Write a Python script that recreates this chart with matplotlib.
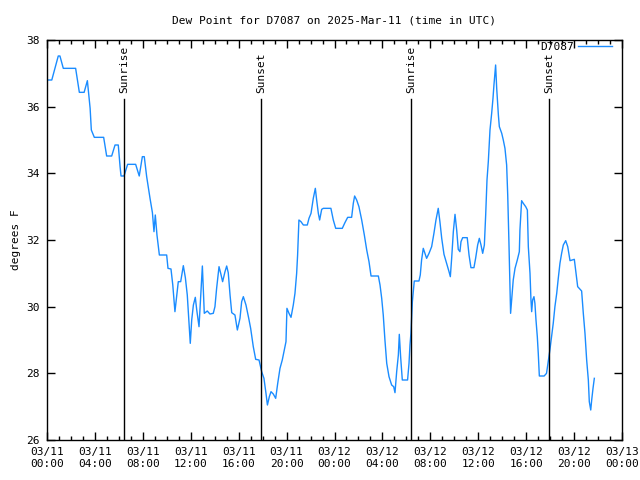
from matplotlib import pyplot as plt
import matplotlib.dates as mdates
import pandas as pd

start = pd.Timestamp("2025-03-11 00:00")

# hours after 03/11 00:00 UTC
hours = [0.1, 0.4, 0.94, 1.08, 1.36, 2.39, 2.7, 3.1, 3.37, 3.5, 3.6, 3.7, 3.95, 4.73, 4.98,
         5.4, 5.68, 5.95, 6.1, 6.18, 6.43, 6.73, 7.4, 7.7, 7.96, 8.12, 8.32, 8.6, 8.8, 8.93,
         9.04, 9.18, 9.38, 9.99, 10.1, 10.35, 10.5, 10.68, 10.82, 10.96, 11.16, 11.38, 11.55,
         11.71, 11.88, 11.96, 12.08, 12.22, 12.38, 12.5, 12.69, 12.83, 12.97, 13.13, 13.38,
         13.6, 13.88, 14.02, 14.16, 14.36, 14.5, 14.66, 14.86, 15.0, 15.13, 15.28, 15.42,
         15.69, 15.89, 16.11, 16.25, 16.39, 16.61, 16.84, 17.0, 17.22, 17.42, 17.7, 17.92,
         18.11, 18.28, 18.4, 18.56, 18.7, 18.89, 19.09, 19.26, 19.45, 19.64, 19.81, 19.95,
         20.03, 20.2, 20.37, 20.56, 20.7, 20.84, 20.92, 21.03, 21.2, 21.4, 21.73, 21.87,
         22.04, 22.23, 22.4, 22.51, 22.65, 22.76, 22.93, 23.07, 23.7, 23.9, 24.1, 24.65,
         24.87, 25.1, 25.43, 25.57, 25.68, 25.85, 26.04, 26.27, 26.49, 26.69, 26.88, 27.05,
         27.66, 27.8, 27.94, 28.07, 28.21, 28.36, 28.55, 28.77, 28.94, 29.05, 29.19, 29.33,
         29.41, 29.52, 29.66, 30.1, 30.22, 30.3, 30.38, 30.5, 30.66, 31.05, 31.16, 31.27,
         31.41, 31.55, 31.69, 31.89, 32.11, 32.3, 32.47, 32.66, 32.8, 32.95, 33.14, 33.36,
         33.56, 33.67, 33.78, 33.92, 34.06, 34.2, 34.33, 34.47, 34.56, 34.7, 35.08, 35.23,
         35.39, 35.64, 35.78, 35.95, 36.09, 36.23, 36.37, 36.51, 36.62, 36.73, 36.84, 36.98,
         37.12, 37.23, 37.31, 37.4, 37.45, 37.54, 37.68, 37.76, 37.96, 38.09, 38.23, 38.37,
         38.46, 38.56, 38.65, 38.7, 38.79, 38.92, 39.07, 39.26, 39.43, 39.48, 39.62, 39.76,
         39.96, 40.1, 40.18, 40.32, 40.4, 40.46, 40.54, 40.65, 40.73, 40.82, 40.93, 41.01,
         41.1, 41.5, 41.7, 41.84, 41.98, 42.12, 42.26, 42.4, 42.55, 42.68, 42.82, 42.96,
         43.1, 43.3, 43.47, 43.66, 43.85, 44.02, 44.16, 44.3, 44.63, 44.77, 44.91, 45.05,
         45.19, 45.27, 45.39, 45.47, 45.58, 45.69]

dewpt = [36.8, 36.8, 37.52, 37.52, 37.15, 37.15, 36.43, 36.43, 36.78, 36.3, 35.95, 35.3, 35.08,
         35.08, 34.52, 34.52, 34.85, 34.85, 34.2, 33.92, 33.92, 34.27, 34.27, 33.92, 34.5,
         34.5, 33.9, 33.25, 32.82, 32.25, 32.75, 32.15, 31.55, 31.55, 31.15, 31.13, 30.65,
         29.85, 30.3, 30.75, 30.75, 31.23, 30.87, 30.35, 29.35, 28.9, 29.6, 30.05, 30.28,
         29.9, 29.4, 30.3, 31.22, 29.8, 29.87, 29.78, 29.8, 30.0, 30.55, 31.2, 31.0, 30.75,
         31.05, 31.22, 31.02, 30.35, 29.82, 29.75, 29.3, 29.65, 30.15, 30.3, 30.05, 29.65,
         29.35, 28.8, 28.42, 28.4, 28.05, 27.85, 27.4, 27.05, 27.3, 27.45, 27.38, 27.25,
         27.7, 28.15, 28.4, 28.7, 28.95, 29.95, 29.8, 29.68, 30.05, 30.4, 31.0, 31.55, 32.6,
         32.55, 32.45, 32.45, 32.65, 32.8, 33.25, 33.55, 33.2, 32.8, 32.6, 32.92, 32.95,
         32.95, 32.6, 32.35, 32.35, 32.52, 32.68, 32.68, 33.1, 33.32, 33.2, 33.0, 32.6,
         32.15, 31.7, 31.35, 30.92, 30.92, 30.65, 30.25, 29.75, 29.0, 28.3, 27.9, 27.65,
         27.6, 27.42, 28.05, 28.55, 29.17, 28.5, 27.8, 27.8, 28.3, 28.85, 29.2, 30.15,
         30.77, 30.77, 30.95, 31.4, 31.75, 31.6, 31.45, 31.6, 31.8, 32.2, 32.6, 32.95,
         32.55, 32.05, 31.57, 31.3, 31.05, 30.9, 31.45, 32.25, 32.77, 32.3, 31.72, 31.65,
         31.95, 32.07, 32.07, 31.55, 31.17, 31.17, 31.45, 31.85, 32.05, 31.85, 31.6, 31.85,
         32.75, 33.8, 34.35, 35.3, 35.8, 36.25, 36.65, 37.05, 37.25, 36.55, 35.75, 35.4,
         35.2, 35.0, 34.75, 34.25, 33.35, 31.95, 30.5, 29.8, 30.2, 30.8, 31.15, 31.4, 31.65,
         32.3, 33.18, 33.1, 33.0, 32.9, 31.8, 31.0, 30.2, 29.85, 30.2, 30.3, 30.1, 29.6,
         29.1, 28.6, 27.92, 27.92, 28.0, 28.35, 28.7, 29.1, 29.5, 30.0, 30.4, 30.85, 31.3,
         31.6, 31.85, 31.98, 31.8, 31.38, 31.4, 31.42, 31.0, 30.6, 30.47, 29.8, 29.2, 28.4,
         27.8, 27.15, 26.9, 27.2, 27.55, 27.85]

sun_labels = ["Sunrise", "Sunset", "Sunrise", "Sunset"]
sun_hours = [6.43, 17.87, 30.38, 41.9]

plt.rcParams['font.family'] = 'DejaVu Sans Mono'
plt.rcParams['font.size'] = 8

times = start + pd.to_timedelta(hours, unit="h")
sun_times = start + pd.to_timedelta(sun_hours, unit="h")

fig = plt.figure(figsize=(6.4, 4.8), dpi=100)
ax = fig.add_axes([47 / 640, 40 / 480, 575 / 640, 400 / 480])

ax.plot(times, dewpt, color="#1a8cff", lw=1, label="D7087")

for t, name in zip(sun_times, sun_labels):
    ax.plot([t, t], [26, 36.22], color="black", lw=1)
    ax.text(t, 0.868, name, transform=ax.get_xaxis_transform(), rotation=90,
            ha="center", va="bottom", fontsize=8)

ax.set_xlim(start, start + pd.Timedelta(hours=48))
ax.set_ylim(26, 38)
ax.set_yticks([26, 28, 30, 32, 34, 36, 38])
ax.xaxis.set_major_locator(mdates.HourLocator(byhour=range(0, 24, 4)))
ax.xaxis.set_minor_locator(mdates.HourLocator())
ax.xaxis.set_major_formatter(mdates.DateFormatter("%m/%d\n%H:%M"))
ax.tick_params(which="both", direction="in", top=True, right=True, width=1)
ax.tick_params(which="major", length=6, pad=5)
ax.tick_params(which="minor", length=3)
for s in ax.spines.values():
    s.set_linewidth(1)

ax.set_title("Dew Point for D7087 on 2025-Mar-11 (time in UTC)", fontsize=8, pad=12)
ax.set_ylabel("degrees F")
ax.legend(loc="upper right", bbox_to_anchor=(0.985, 1.0), frameon=False, markerfirst=False,
          handlelength=3, handletextpad=0.4, borderaxespad=0, borderpad=0.15, fontsize=8)

plt.savefig("out.png", dpi=100)
